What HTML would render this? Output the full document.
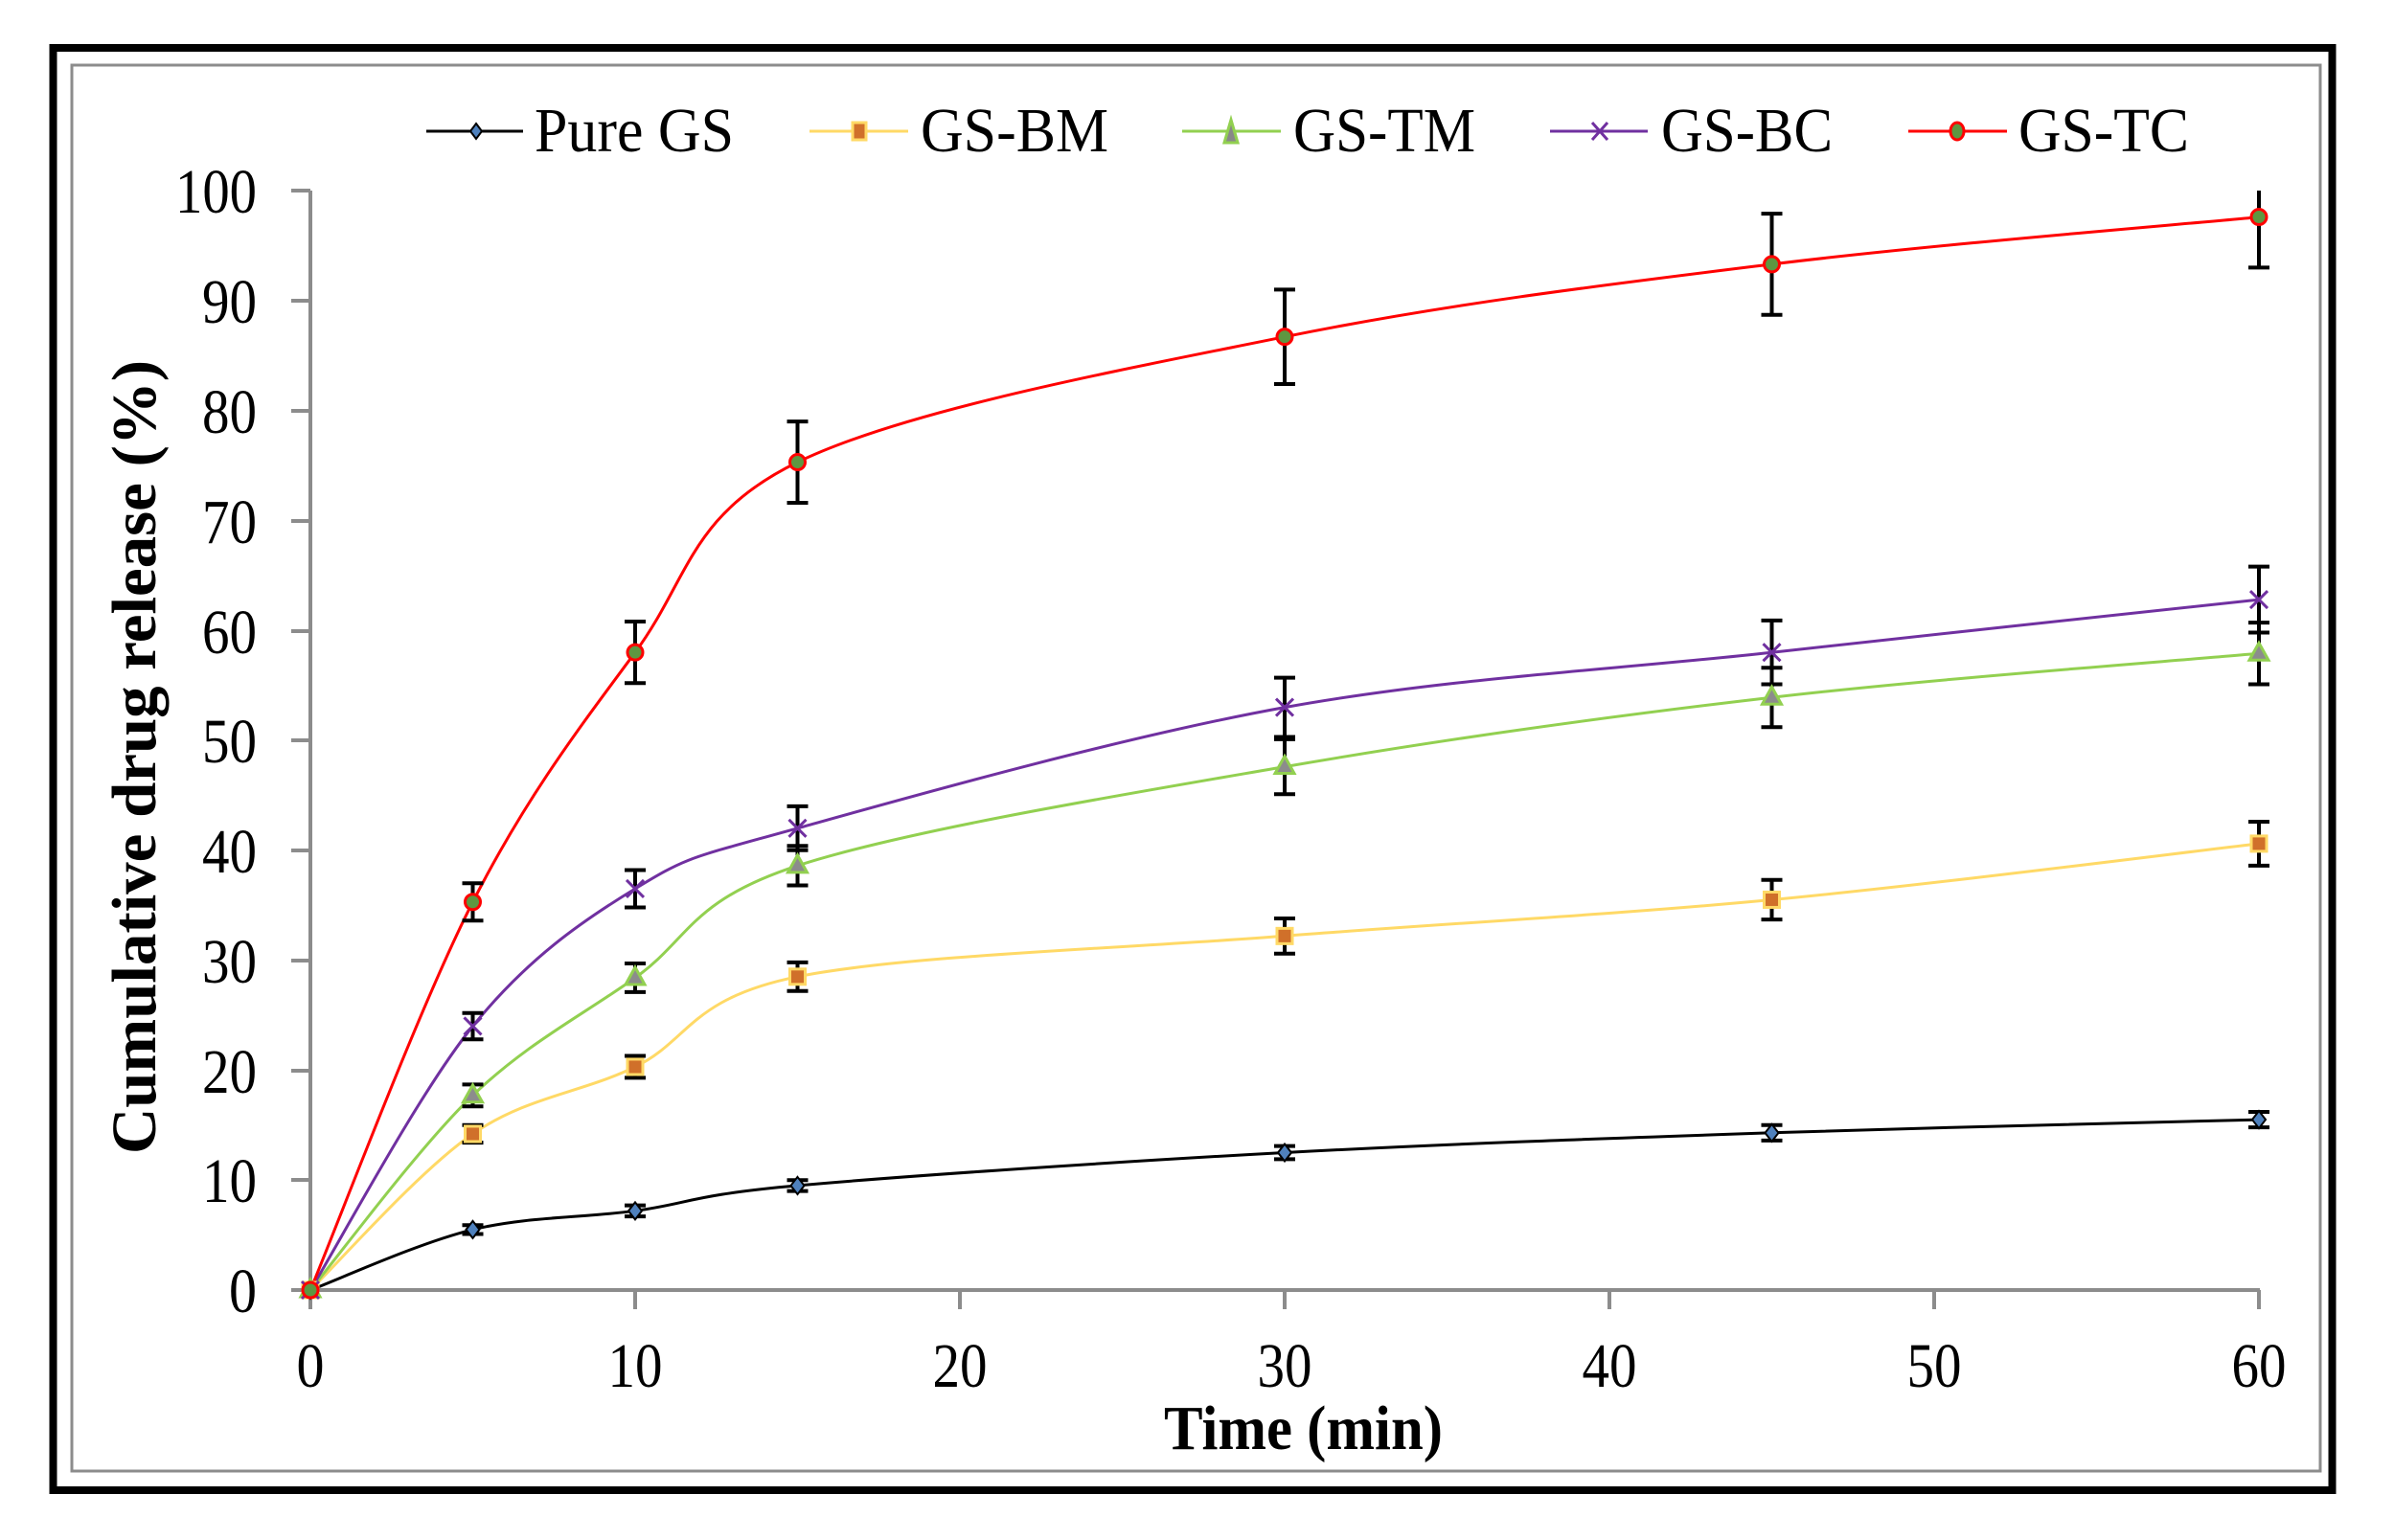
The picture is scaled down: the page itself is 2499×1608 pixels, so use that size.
<!DOCTYPE html>
<html><head><meta charset="utf-8">
<style>
html,body{margin:0;padding:0;background:#fff;}
svg{display:block;}
text{font-family:"Liberation Serif",serif;fill:#000;}
</style></head>
<body>
<svg id="s" width="2499" height="1608" viewBox="0 0 2499 1608" xmlns="http://www.w3.org/2000/svg">
<rect x="0" y="0" width="2499" height="1608" fill="#fff"/>
<rect x="55.5" y="50" width="2379" height="1506" fill="none" stroke="#000" stroke-width="8"/>
<rect x="75" y="68" width="2347" height="1468" fill="none" stroke="#8c8c8c" stroke-width="3"/>

<g stroke="#8c8c8c" stroke-width="4" fill="none">
<line x1="324" y1="199" x2="324" y2="1367"/>
<line x1="304" y1="1347" x2="2359" y2="1347"/>
<line x1="304" y1="199" x2="324" y2="199"/>
<line x1="304" y1="314" x2="324" y2="314"/>
<line x1="304" y1="429" x2="324" y2="429"/>
<line x1="304" y1="544" x2="324" y2="544"/>
<line x1="304" y1="659" x2="324" y2="659"/>
<line x1="304" y1="773" x2="324" y2="773"/>
<line x1="304" y1="888" x2="324" y2="888"/>
<line x1="304" y1="1003" x2="324" y2="1003"/>
<line x1="304" y1="1118" x2="324" y2="1118"/>
<line x1="304" y1="1232" x2="324" y2="1232"/>
<line x1="663" y1="1347" x2="663" y2="1367"/>
<line x1="1002" y1="1347" x2="1002" y2="1367"/>
<line x1="1341" y1="1347" x2="1341" y2="1367"/>
<line x1="1680" y1="1347" x2="1680" y2="1367"/>
<line x1="2019" y1="1347" x2="2019" y2="1367"/>
<line x1="2358" y1="1347" x2="2358" y2="1367"/>
</g>

<g font-size="66" text-anchor="end" lengthAdjust="spacingAndGlyphs">
<text x="268" y="222" textLength="85" lengthAdjust="spacingAndGlyphs">100</text>
<text x="268" y="337" textLength="57" lengthAdjust="spacingAndGlyphs">90</text>
<text x="268" y="452" textLength="57" lengthAdjust="spacingAndGlyphs">80</text>
<text x="268" y="567" textLength="57" lengthAdjust="spacingAndGlyphs">70</text>
<text x="268" y="682" textLength="57" lengthAdjust="spacingAndGlyphs">60</text>
<text x="268" y="796" textLength="57" lengthAdjust="spacingAndGlyphs">50</text>
<text x="268" y="911" textLength="57" lengthAdjust="spacingAndGlyphs">40</text>
<text x="268" y="1026" textLength="57" lengthAdjust="spacingAndGlyphs">30</text>
<text x="268" y="1141" textLength="57" lengthAdjust="spacingAndGlyphs">20</text>
<text x="268" y="1255" textLength="57" lengthAdjust="spacingAndGlyphs">10</text>
<text x="268" y="1370" textLength="29" lengthAdjust="spacingAndGlyphs">0</text>
</g>
<g font-size="66" text-anchor="middle">
<text x="324" y="1448" textLength="29" lengthAdjust="spacingAndGlyphs">0</text>
<text x="663" y="1448" textLength="57" lengthAdjust="spacingAndGlyphs">10</text>
<text x="1002" y="1448" textLength="57" lengthAdjust="spacingAndGlyphs">20</text>
<text x="1341" y="1448" textLength="57" lengthAdjust="spacingAndGlyphs">30</text>
<text x="1680" y="1448" textLength="57" lengthAdjust="spacingAndGlyphs">40</text>
<text x="2019" y="1448" textLength="57" lengthAdjust="spacingAndGlyphs">50</text>
<text x="2358" y="1448" textLength="57" lengthAdjust="spacingAndGlyphs">60</text>
</g>
<text x="1215" y="1513" font-size="66" font-weight="bold" textLength="291" lengthAdjust="spacingAndGlyphs">Time (min)</text>
<text transform="translate(162,1205) rotate(-90)" x="0" y="0" font-size="66" font-weight="bold" textLength="829" lengthAdjust="spacingAndGlyphs">Cumulative drug release (%)</text>

<g font-size="66">
<line x1="445" y1="137" x2="546" y2="137" stroke="#000" stroke-width="3"/>
<path d="M497 129 L503 137 L497 145 L491 137 Z" fill="#4f81bd" stroke="#000" stroke-width="2"/>
<text x="558" y="158" textLength="208" lengthAdjust="spacingAndGlyphs">Pure GS</text>
<line x1="845" y1="137" x2="948" y2="137" stroke="#ffd966" stroke-width="3"/>
<rect x="890" y="128" width="14" height="18" fill="#d0702a" stroke="#ffd966" stroke-width="3"/>
<text x="961" y="158" textLength="196" lengthAdjust="spacingAndGlyphs">GS-BM</text>
<line x1="1234" y1="137" x2="1337" y2="137" stroke="#92d050" stroke-width="3"/>
<path d="M1285 125 L1292 149 L1278 149 Z" fill="#888" stroke="#92d050" stroke-width="3"/>
<text x="1350" y="158" textLength="190" lengthAdjust="spacingAndGlyphs">GS-TM</text>
<line x1="1618" y1="137" x2="1720" y2="137" stroke="#7030a0" stroke-width="3"/>
<path d="M1662 128 L1678 146 M1678 128 L1662 146" stroke="#7030a0" stroke-width="3"/>
<text x="1734" y="158" textLength="179" lengthAdjust="spacingAndGlyphs">GS-BC</text>
<line x1="1992" y1="137" x2="2095" y2="137" stroke="#ff0000" stroke-width="3"/>
<ellipse cx="2043" cy="137" rx="7" ry="9" fill="#5e9741" stroke="#ff0000" stroke-width="3"/>
<text x="2107" y="158" textLength="178" lengthAdjust="spacingAndGlyphs">GS-TC</text>
</g>
<g id="plot"></g>
</svg>
<script>
(function(){
var X=[0,5,10,15,30,45,60];
function px(t){return 324+t*33.9;}
function py(v){return 1347-v*11.48;}
var S=[
 {c:"#000",d:[0,5.5,7.2,9.5,12.5,14.3,15.5],e:[0,0.4,0.5,0.5,0.6,0.7,0.7],m:"d"},
 {c:"#ffd966",d:[0,14.2,20.3,28.5,32.2,35.5,40.6],e:[0,0.8,1.0,1.3,1.6,1.8,2.0],m:"s"},
 {c:"#92d050",d:[0,17.7,28.4,38.6,47.6,53.9,57.9],e:[0,1.0,1.3,1.8,2.5,2.7,2.8],m:"t"},
 {c:"#7030a0",d:[0,24,36.5,42,53,58,62.8],e:[0,1.2,1.7,2.0,2.7,2.9,3.0],m:"x"},
 {c:"#ff0000",d:[0,35.3,58,75.3,86.7,93.3,97.6],e:[0,1.7,2.8,3.7,4.3,4.6,4.6],m:"c"}
];
var g=document.getElementById("plot"),h="";
S.forEach(function(s){
 var P=X.map(function(t,i){return [px(t),py(s.d[i])];});
 var d="M"+P[0][0]+" "+P[0][1];
 for(var i=0;i<P.length-1;i++){
  var p0=P[i-1]||P[i],p1=P[i],p2=P[i+1],p3=P[i+2]||P[i+1];
  var k=6;
  var c1=[p1[0]+(p2[0]-p0[0])/k,p1[1]+(p2[1]-p0[1])/k];
  var c2=[p2[0]-(p3[0]-p1[0])/k,p2[1]-(p3[1]-p1[1])/k];
  d+=" C"+c1[0].toFixed(1)+" "+c1[1].toFixed(1)+" "+c2[0].toFixed(1)+" "+c2[1].toFixed(1)+" "+p2[0].toFixed(1)+" "+p2[1].toFixed(1);
 }
 h+='<path d="'+d+'" fill="none" stroke="'+s.c+'" stroke-width="3"/>';
});
S.forEach(function(s){
 X.forEach(function(t,i){
  if(i==0)return;
  var top=Math.min(100,s.d[i]+s.e[i]);
  var x=px(t),y1=py(top),y2=py(s.d[i]-s.e[i]);
  var cap=(top<100);
  h+='<path d="M'+x+' '+y1+'V'+y2+(cap?'M'+(x-11)+' '+y1+'H'+(x+11):'')+'M'+(x-11)+' '+y2+'H'+(x+11)+'" stroke="#000" stroke-width="4" fill="none"/>';
 });
});
S.forEach(function(s){
 X.forEach(function(t,i){
  var x=px(t),y=py(s.d[i]);
  if(s.m=="d")h+='<path d="M'+x+' '+(y-9)+'L'+(x+7)+' '+y+'L'+x+' '+(y+9)+'L'+(x-7)+' '+y+'Z" fill="#4f81bd" stroke="#000" stroke-width="2"/>';
  if(s.m=="s")h+='<rect x="'+(x-8)+'" y="'+(y-8)+'" width="16" height="16" fill="#d0702a" stroke="#ffd966" stroke-width="3"/>';
  if(s.m=="t")h+='<path d="M'+x+' '+(y-11)+'L'+(x+10)+' '+(y+7)+'L'+(x-10)+' '+(y+7)+'Z" fill="#8c8c8c" stroke="#92d050" stroke-width="3"/>';
  if(s.m=="x")h+='<path d="M'+(x-9)+' '+(y-9)+'L'+(x+9)+' '+(y+9)+'M'+(x+9)+' '+(y-9)+'L'+(x-9)+' '+(y+9)+'" stroke="#7030a0" stroke-width="3"/>';
  if(s.m=="c")h+='<circle cx="'+x+'" cy="'+y+'" r="8" fill="#5e9741" stroke="#ff0000" stroke-width="3"/>';
 });
});
g.innerHTML=h;
})();
</script>
</body></html>
